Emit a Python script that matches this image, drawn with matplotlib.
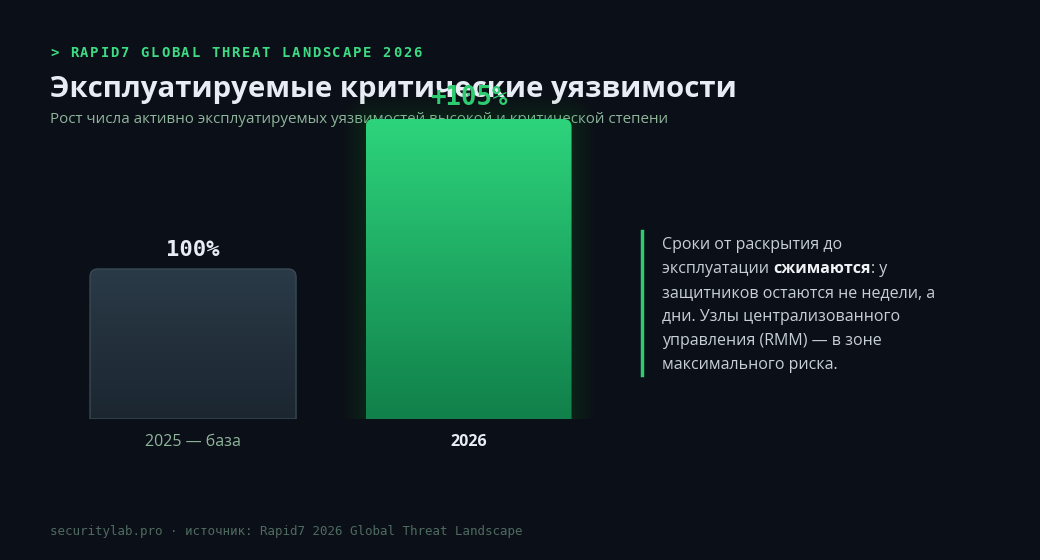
import matplotlib
matplotlib.use("Agg")
import matplotlib.pyplot as plt
import numpy as np
from matplotlib.path import Path
from matplotlib.patches import PathPatch
from matplotlib.colors import LinearSegmentedColormap

# data
categories = ["2025 — база", "2026"]
heights = [100, 200]
value_labels = ["100%", "+105%"]

header = "> RAPID7 GLOBAL THREAT LANDSCAPE 2026"
title = "Эксплуатируемые критические уязвимости"
subtitle = "Рост числа активно эксплуатируемых уязвимостей высокой и критической степени"
footer = "securitylab.pro · источник: Rapid7 2026 Global Threat Landscape"
note_lines = [
    [("Сроки от раскрытия до", False)],
    [("эксплуатации ", False), ("сжимаются", True), (": у", False)],
    [("защитников остаются не недели, а", False)],
    [("дни. Узлы централизованного", False)],
    [("управления (RMM) — в зоне", False)],
    [("максимального риска.", False)],
]

BG = "#0b0f17"
GREEN = "#2ecc71"
W, H = 1040, 560

fig = plt.figure(figsize=(W / 100, H / 100), dpi=100, facecolor=BG)


def fx(x):
    return x / W


def fy(y):
    return 1 - y / H


def spaced_text(x, y, s, step, **kw):
    for i, ch in enumerate(s):
        fig.text(fx(x + i * step), fy(y), ch, ha="left", va="baseline", **kw)


mono = "DejaVu Sans Mono"
sans = "Open Sans"

spaced_text(50, 57, header, 10.08, family=mono, fontweight="bold",
            fontsize=10, color="#3ddc84")
fig.text(fx(50), fy(97), title, family=sans, fontweight="bold", fontsize=21.2,
         color="#e8ecf4", va="baseline", zorder=1)
fig.text(fx(50), fy(123), subtitle, family=sans, fontsize=10.9,
         color="#8fb59c", va="baseline", zorder=1)
fig.text(fx(50), fy(535), footer, family=mono, fontsize=9, color="#4f6b60",
         va="baseline")

# bars axes: 1 x-unit = 275.5 px, 1 y-unit = 1.5 px
ax_l, ax_w = 41.5, 578.6
ax_b, ax_h = 141, 330
ax = fig.add_axes([ax_l / W, ax_b / H, ax_w / W, ax_h / H])
ax.set_facecolor("none")
ax.set_xlim(-0.55, 1.55)
ax.set_ylim(0, 220)
ax.axis("off")
ax.set_zorder(2)

xpx = 275.5
ypx = 1.5
bar_w = 206 / xpx


def top_round_path(x0, x1, y0, y1, r):
    rx, ry = r / xpx, r / ypx
    verts = [(x0, y0), (x0, y1 - ry), (x0, y1), (x0 + rx, y1),
             (x1 - rx, y1), (x1, y1), (x1, y1 - ry), (x1, y0), (x0, y0)]
    codes = [Path.MOVETO, Path.LINETO, Path.CURVE3, Path.CURVE3,
             Path.LINETO, Path.CURVE3, Path.CURVE3, Path.LINETO, Path.CLOSEPOLY]
    return Path(verts, codes)


grads = [("#2a3a47", "#1b2630"), ("#2dd47c", "#11804a")]

for i, (h, (c_top, c_bot)) in enumerate(zip(heights, grads)):
    x0, x1 = i - bar_w / 2, i + bar_w / 2
    if i == 1:
        for e in np.linspace(1, 24, 18):
            ex, ey = e / xpx, e / ypx
            gp = top_round_path(x0 - ex, x1 + ex, -ey, h + ey, 8 + e)
            ax.add_patch(PathPatch(gp, facecolor="#22c55e", edgecolor="none",
                                   alpha=0.008, zorder=1))
    path = top_round_path(x0, x1, 0, h, 8)
    cmap = LinearSegmentedColormap.from_list("g%d" % i, [c_bot, c_top])
    grad = np.linspace(0, 1, 256).reshape(-1, 1)
    im = ax.imshow(grad, extent=[x0, x1, 0, h], origin="lower", aspect="auto",
                   cmap=cmap, zorder=2)
    clip = PathPatch(path, facecolor="none", edgecolor="none")
    ax.add_patch(clip)
    im.set_clip_path(clip)
    if i == 0:
        ax.add_patch(PathPatch(path, facecolor="none", edgecolor="#3a4954",
                               lw=1, zorder=3))

ax.set_xlim(-0.55, 1.55)
ax.set_ylim(0, 220)

ax.annotate(value_labels[0], (0, heights[0]), xytext=(0, 9.5),
            textcoords="offset points", ha="center", va="baseline",
            family=mono, fontweight="bold", fontsize=16, color="#e8ecf4",
            annotation_clip=False, zorder=5)
ax.annotate(value_labels[1], (1, heights[1]), xytext=(0, 10),
            textcoords="offset points", ha="center", va="baseline",
            family=mono, fontweight="bold", fontsize=18.5, color=GREEN,
            annotation_clip=False, zorder=5)

ax.annotate(categories[0], (0, 0), xytext=(0, -16.5), textcoords="offset points",
            ha="center", va="center", family=sans, fontsize=11.5,
            color="#8fb59c", annotation_clip=False)
ax.annotate(categories[1], (1, 0), xytext=(0, -16.5), textcoords="offset points",
            ha="center", va="center", family=sans, fontsize=11.5,
            fontweight="bold", color="#e8ecf4", annotation_clip=False)

# note on the right
fig.add_artist(plt.Line2D([fx(642), fx(642)], [fy(231), fy(375)],
                          color=GREEN, lw=2.5))
fig.canvas.draw()
renderer = fig.canvas.get_renderer()
for k, line in enumerate(note_lines):
    x = 662
    y = 249 + 24 * k
    for txt, bold in line:
        t = fig.text(fx(x), fy(y), txt, family=sans, fontsize=11.5,
                     fontweight="bold" if bold else "normal",
                     color="#f0f3f6" if bold else "#c8cfd6", va="baseline")
        bb = t.get_window_extent(renderer)
        x += bb.width

fig.savefig("out.png", dpi=100, facecolor=BG)
